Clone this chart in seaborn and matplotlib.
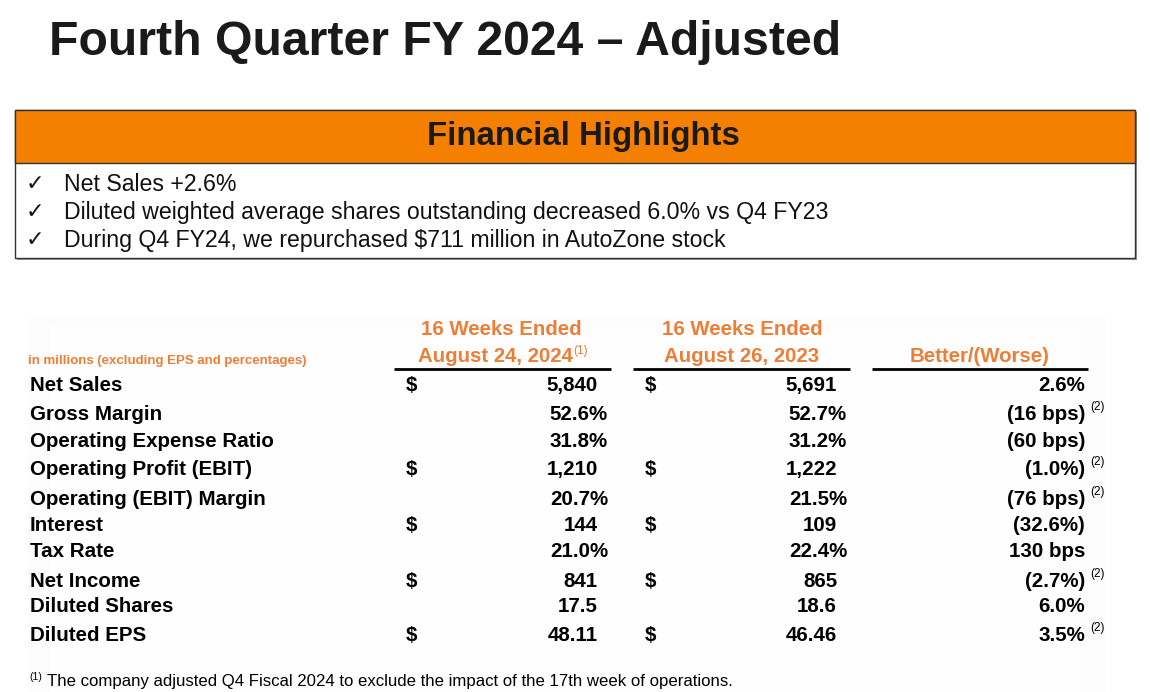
import matplotlib
matplotlib.use("Agg")
import numpy as np
import pandas as pd
import seaborn as sns
import matplotlib.pyplot as plt
from matplotlib.patches import Rectangle

# ---------------- data ----------------
title = "Fourth Quarter FY 2024 \u2013 Adjusted"
box_title = "Financial Highlights"
bullets = [
    "Net Sales +2.6%",
    "Diluted weighted average shares outstanding decreased 6.0% vs Q4 FY23",
    "During Q4 FY24, we repurchased $711 million in AutoZone stock",
]
units_note = "in millions (excluding EPS and percentages)"
header_top = ["16 Weeks Ended", "16 Weeks Ended", ""]
header_bottom = ["August 24, 2024", "August 26, 2023", "Better/(Worse)"]
header_notes = ["(1)", "", ""]
metrics = ["Net Sales", "Gross Margin", "Operating Expense Ratio",
           "Operating Profit (EBIT)", "Operating (EBIT) Margin", "Interest",
           "Tax Rate", "Net Income", "Diluted Shares", "Diluted EPS"]
fy24 = ["5,840", "52.6%", "31.8%", "1,210", "20.7%", "144", "21.0%", "841", "17.5", "48.11"]
fy23 = ["5,691", "52.7%", "31.2%", "1,222", "21.5%", "109", "22.4%", "865", "18.6", "46.46"]
change = ["2.6%", "(16 bps)", "(60 bps)", "(1.0%)", "(76 bps)", "(32.6%)",
          "130 bps", "(2.7%)", "6.0%", "3.5%"]
dollar_rows = [True, False, False, True, False, True, False, True, False, True]
note2_rows = [False, True, False, True, True, False, False, True, False, True]
footnote = "The company adjusted Q4 Fiscal 2024 to exclude the impact of the 17th week of operations."

# ---------------- style ----------------
sns.set_theme(style="white")
plt.rcParams["font.family"] = ["Liberation Sans", "DejaVu Sans"]

ORANGE_BOX = "#F47F00"
ORANGE_TXT = "#EE7D36"
BLACK = "#000000"

W, H = 1150, 692
fig = plt.figure(figsize=(W / 100, H / 100), dpi=100)
ax = fig.add_axes([0, 0, 1, 1])
ax.set_xlim(0, W)
ax.set_ylim(H, 0)
ax.axis("off")

# faint background panels
ax.add_patch(Rectangle((28, 318), 1077, 374, facecolor="#fcfcfc", edgecolor="none", zorder=0))
ax.add_patch(Rectangle((50, 326), 1030, 366, facecolor="#fefefe", edgecolor="none", zorder=0))

# title
ax.text(49, 55, title, fontsize=34.7, fontweight="bold", color="#1a1a1a",
        ha="left", va="baseline")

# highlights box
ax.add_patch(Rectangle((17, 112), 1120, 148, facecolor="#9a9a9a", edgecolor="none", zorder=1))
ax.add_patch(Rectangle((15, 110), 1120, 148, facecolor="white", edgecolor="#333333", lw=1, zorder=2))
ax.add_patch(Rectangle((15, 110), 1120, 53, facecolor=ORANGE_BOX, edgecolor="#333333", lw=1, zorder=3))
ax.text(583, 137, box_title, fontsize=23.8, fontweight="bold", color="#1a1a1a",
        ha="center", va="center", zorder=4)
for i, b in enumerate(bullets):
    yb = 191 + 28 * i
    ax.text(26, yb - 1, "\u2713", fontsize=16, color="#111111", ha="left", va="baseline",
            family=["DejaVu Sans"], zorder=4)
    ax.text(64, yb, b, fontsize=16.7, color="#111111", ha="left", va="baseline", zorder=4)

fig.canvas.draw()
renderer = fig.canvas.get_renderer()
inv = ax.transData.inverted()


def right_edge(t):
    bb = t.get_window_extent(renderer)
    (x0, y0), (x1, y1) = inv.transform([[bb.x0, bb.y0], [bb.x1, bb.y1]])
    return max(x0, x1), min(y0, y1)


# table header
col_centers = [501, 742, 980]
line_spans = [(394, 611), (633, 850), (872, 1088)]
ax.text(28, 364, units_note, fontsize=9.5, fontweight="bold", color=ORANGE_TXT,
        ha="left", va="baseline")
for c, top, bot, note, (l0, l1) in zip(col_centers, header_top, header_bottom,
                                        header_notes, line_spans):
    if top:
        ax.text(c, 335, top, fontsize=14.7, fontweight="bold", color=ORANGE_TXT,
                ha="center", va="baseline")
    t = ax.text(c - (6 if note else 0), 362, bot, fontsize=14.7, fontweight="bold",
                color=ORANGE_TXT, ha="center", va="baseline")
    if note:
        xr, yt = right_edge(t)
        ax.text(xr + 1, yt - 2, note, fontsize=8.5, color=ORANGE_TXT,
                ha="left", va="top")
    ax.plot([l0, l1], [369, 369], color=BLACK, lw=2, solid_capstyle="butt")

# table body
row_base = [391, 420, 447, 475, 505, 531, 557, 587, 612, 641]
FS = 14.8
for i, (m, a, b, c) in enumerate(zip(metrics, fy24, fy23, change)):
    y = row_base[i]
    ax.text(30, y, m, fontsize=FS, fontweight="bold", color=BLACK, ha="left", va="baseline")
    if dollar_rows[i]:
        ax.text(406, y, "$", fontsize=FS, fontweight="bold", color=BLACK, ha="left", va="baseline")
        ax.text(645, y, "$", fontsize=FS, fontweight="bold", color=BLACK, ha="left", va="baseline")
    ax.text(608 if a.endswith("%") else 598, y, a, fontsize=FS, fontweight="bold",
            color=BLACK, ha="right", va="baseline")
    ax.text(847 if b.endswith("%") else 837, y, b, fontsize=FS, fontweight="bold",
            color=BLACK, ha="right", va="baseline")
    ax.text(1085, y, c, fontsize=FS, fontweight="bold", color=BLACK,
            ha="right", va="baseline")
    if note2_rows[i]:
        ax.text(1090, y - 10, "(2)", fontsize=8.5, color=BLACK, ha="left", va="baseline")

# footnote
ax.text(29, 680, "(1)", fontsize=7.5, color=BLACK, ha="left", va="baseline")
ax.text(47, 686, footnote, fontsize=12.1, color=BLACK, ha="left", va="baseline",
        family=["Liberation Sans", "DejaVu Sans"])

fig.savefig("out.png", dpi=100, facecolor="white")
